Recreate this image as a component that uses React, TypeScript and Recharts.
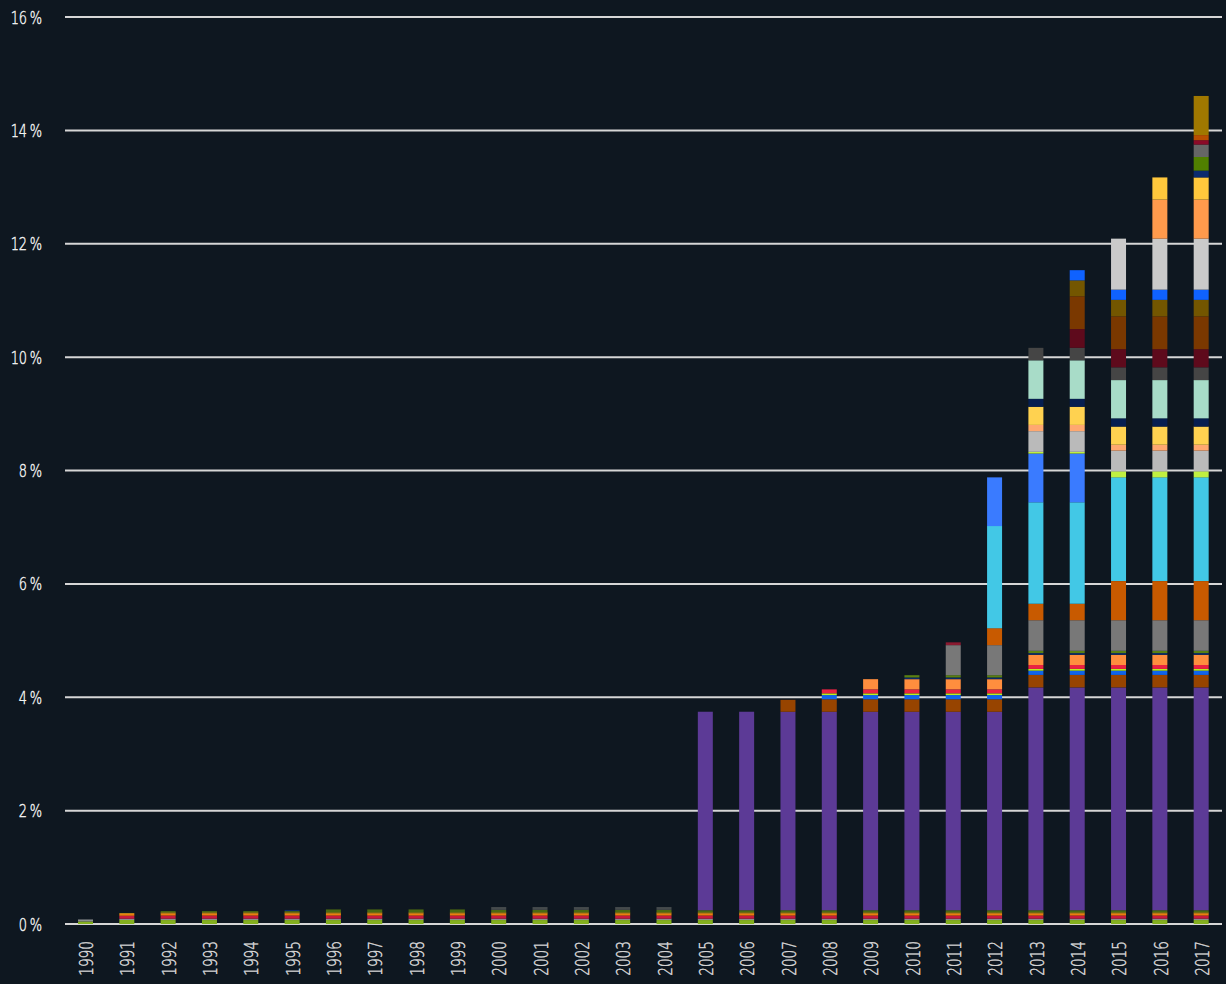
import { BarChart, Bar, XAxis, YAxis, CartesianGrid } from "recharts"

const years = [
  1990, 1991, 1992, 1993, 1994, 1995, 1996, 1997, 1998, 1999, 2000, 2001, 2002, 2003,
  2004, 2005, 2006, 2007, 2008, 2009, 2010, 2011, 2012, 2013, 2014, 2015, 2016, 2017,
]
const yTicks = [0, 2, 4, 6, 8, 10, 12, 14, 16]

// share values (%) per year, bottom of the stack first
const baseGreen = [0.045, 0.07, 0.07, 0.07, 0.07, 0.07, 0.07, 0.07, 0.07, 0.07, 0.07, 0.07, 0.07, 0.07, 0.07, 0.07, 0.07, 0.07, 0.07, 0.07, 0.07, 0.07, 0.07, 0.07, 0.07, 0.07, 0.07, 0.07]
const baseGray = [0.035, 0.024, 0.024, 0.024, 0.024, 0.024, 0.024, 0.024, 0.024, 0.024, 0.024, 0.024, 0.024, 0.024, 0.024, 0.024, 0.024, 0.024, 0.024, 0.024, 0.024, 0.024, 0.024, 0.024, 0.024, 0.024, 0.024, 0.024]
const baseRed = [0, 0.053, 0.055, 0.055, 0.055, 0.055, 0.055, 0.055, 0.055, 0.055, 0.055, 0.055, 0.055, 0.055, 0.055, 0.055, 0.055, 0.055, 0.055, 0.055, 0.055, 0.055, 0.055, 0.055, 0.055, 0.055, 0.055, 0.055]
const baseOrange = [0, 0.03, 0.035, 0.035, 0.035, 0.035, 0.035, 0.035, 0.035, 0.035, 0.035, 0.035, 0.035, 0.035, 0.035, 0.035, 0.035, 0.035, 0.035, 0.035, 0.035, 0.035, 0.035, 0.035, 0.035, 0.035, 0.035, 0.035]
const baseAmber = [0, 0.012, 0.02, 0.02, 0.02, 0.02, 0.02, 0.02, 0.02, 0.02, 0.02, 0.02, 0.02, 0.02, 0.02, 0.02, 0.02, 0.02, 0.02, 0.02, 0.02, 0.02, 0.02, 0.02, 0.02, 0.02, 0.02, 0.02]
const baseOlive = [0, 0, 0.024, 0.024, 0.024, 0.024, 0.053, 0.053, 0.053, 0.053, 0.045, 0.045, 0.045, 0.045, 0.045, 0.04, 0.04, 0.04, 0.04, 0.04, 0.04, 0.04, 0.04, 0.04, 0.04, 0.04, 0.04, 0.04]
const navyEarly = [0, 0, 0, 0, 0, 0.02, 0, 0, 0, 0, 0, 0, 0, 0, 0, 0, 0, 0, 0, 0, 0, 0, 0, 0, 0, 0, 0, 0]
const darkGrayEarly = [0, 0, 0, 0, 0, 0, 0, 0, 0, 0, 0.05, 0.05, 0.05, 0.05, 0.05, 0, 0, 0, 0, 0, 0, 0, 0, 0, 0, 0, 0, 0]
const purple = [0, 0, 0, 0, 0, 0, 0, 0, 0, 0, 0, 0, 0, 0, 0, 3.5, 3.5, 3.5, 3.5, 3.5, 3.5, 3.5, 3.5, 3.93, 3.93, 3.93, 3.93, 3.93]
const brown = [0, 0, 0, 0, 0, 0, 0, 0, 0, 0, 0, 0, 0, 0, 0, 0, 0, 0.21, 0.22, 0.22, 0.22, 0.22, 0.22, 0.22, 0.22, 0.22, 0.22, 0.22]
const blue = [0, 0, 0, 0, 0, 0, 0, 0, 0, 0, 0, 0, 0, 0, 0, 0, 0, 0, 0.075, 0.075, 0.075, 0.075, 0.075, 0.075, 0.075, 0.075, 0.075, 0.075]
const lime = [0, 0, 0, 0, 0, 0, 0, 0, 0, 0, 0, 0, 0, 0, 0, 0, 0, 0, 0.03, 0.03, 0.03, 0.03, 0.03, 0.03, 0.03, 0.03, 0.03, 0.03]
const red = [0, 0, 0, 0, 0, 0, 0, 0, 0, 0, 0, 0, 0, 0, 0, 0, 0, 0, 0.07, 0.07, 0.07, 0.07, 0.07, 0.07, 0.07, 0.07, 0.07, 0.07]
const orange = [0, 0, 0, 0, 0, 0, 0, 0, 0, 0, 0, 0, 0, 0, 0, 0, 0, 0, 0, 0.18, 0.18, 0.18, 0.18, 0.18, 0.18, 0.18, 0.18, 0.18]
const navy = [0, 0, 0, 0, 0, 0, 0, 0, 0, 0, 0, 0, 0, 0, 0, 0, 0, 0, 0, 0, 0.03, 0.03, 0.03, 0.03, 0.03, 0.03, 0.03, 0.03]
const olive = [0, 0, 0, 0, 0, 0, 0, 0, 0, 0, 0, 0, 0, 0, 0, 0, 0, 0, 0, 0, 0.04, 0.04, 0.04, 0.04, 0.04, 0.04, 0.04, 0.04]
const gray = [0, 0, 0, 0, 0, 0, 0, 0, 0, 0, 0, 0, 0, 0, 0, 0, 0, 0, 0, 0, 0, 0.53, 0.53, 0.54, 0.54, 0.54, 0.54, 0.54]
const darkRed = [0, 0, 0, 0, 0, 0, 0, 0, 0, 0, 0, 0, 0, 0, 0, 0, 0, 0, 0, 0, 0, 0.05, 0, 0, 0, 0, 0, 0]
const rust = [0, 0, 0, 0, 0, 0, 0, 0, 0, 0, 0, 0, 0, 0, 0, 0, 0, 0, 0, 0, 0, 0, 0.3, 0.29, 0.29, 0.69, 0.69, 0.69]
const cyan = [0, 0, 0, 0, 0, 0, 0, 0, 0, 0, 0, 0, 0, 0, 0, 0, 0, 0, 0, 0, 0, 0, 1.8, 1.79, 1.79, 1.83, 1.83, 1.83]
const skyBlue = [0, 0, 0, 0, 0, 0, 0, 0, 0, 0, 0, 0, 0, 0, 0, 0, 0, 0, 0, 0, 0, 0, 0.86, 0.86, 0.86, 0, 0, 0]
const lime2 = [0, 0, 0, 0, 0, 0, 0, 0, 0, 0, 0, 0, 0, 0, 0, 0, 0, 0, 0, 0, 0, 0, 0, 0.03, 0.03, 0.106, 0.106, 0.106]
const silver = [0, 0, 0, 0, 0, 0, 0, 0, 0, 0, 0, 0, 0, 0, 0, 0, 0, 0, 0, 0, 0, 0, 0, 0.365, 0.365, 0.365, 0.365, 0.365]
const salmon = [0, 0, 0, 0, 0, 0, 0, 0, 0, 0, 0, 0, 0, 0, 0, 0, 0, 0, 0, 0, 0, 0, 0, 0.11, 0.11, 0.105, 0.105, 0.105]
const yellow = [0, 0, 0, 0, 0, 0, 0, 0, 0, 0, 0, 0, 0, 0, 0, 0, 0, 0, 0, 0, 0, 0, 0, 0.32, 0.32, 0.32, 0.32, 0.32]
const midnight = [0, 0, 0, 0, 0, 0, 0, 0, 0, 0, 0, 0, 0, 0, 0, 0, 0, 0, 0, 0, 0, 0, 0, 0.14, 0.14, 0.145, 0.145, 0.145]
const mint = [0, 0, 0, 0, 0, 0, 0, 0, 0, 0, 0, 0, 0, 0, 0, 0, 0, 0, 0, 0, 0, 0, 0, 0.68, 0.68, 0.675, 0.675, 0.675]
const charcoal = [0, 0, 0, 0, 0, 0, 0, 0, 0, 0, 0, 0, 0, 0, 0, 0, 0, 0, 0, 0, 0, 0, 0, 0.22, 0.22, 0.225, 0.225, 0.225]
const maroon = [0, 0, 0, 0, 0, 0, 0, 0, 0, 0, 0, 0, 0, 0, 0, 0, 0, 0, 0, 0, 0, 0, 0, 0, 0.33, 0.32, 0.32, 0.32]
const chestnut = [0, 0, 0, 0, 0, 0, 0, 0, 0, 0, 0, 0, 0, 0, 0, 0, 0, 0, 0, 0, 0, 0, 0, 0, 0.58, 0.58, 0.58, 0.58]
const bronze = [0, 0, 0, 0, 0, 0, 0, 0, 0, 0, 0, 0, 0, 0, 0, 0, 0, 0, 0, 0, 0, 0, 0, 0, 0.28, 0.29, 0.29, 0.29]
const royal = [0, 0, 0, 0, 0, 0, 0, 0, 0, 0, 0, 0, 0, 0, 0, 0, 0, 0, 0, 0, 0, 0, 0, 0, 0.18, 0.18, 0.18, 0.18]
const pale = [0, 0, 0, 0, 0, 0, 0, 0, 0, 0, 0, 0, 0, 0, 0, 0, 0, 0, 0, 0, 0, 0, 0, 0, 0, 0.9, 0.9, 0.9]
const apricot = [0, 0, 0, 0, 0, 0, 0, 0, 0, 0, 0, 0, 0, 0, 0, 0, 0, 0, 0, 0, 0, 0, 0, 0, 0, 0, 0.69, 0.69]
const gold = [0, 0, 0, 0, 0, 0, 0, 0, 0, 0, 0, 0, 0, 0, 0, 0, 0, 0, 0, 0, 0, 0, 0, 0, 0, 0, 0.39, 0.39]
const navyLate = [0, 0, 0, 0, 0, 0, 0, 0, 0, 0, 0, 0, 0, 0, 0, 0, 0, 0, 0, 0, 0, 0, 0, 0, 0, 0, 0, 0.12]
const leaf = [0, 0, 0, 0, 0, 0, 0, 0, 0, 0, 0, 0, 0, 0, 0, 0, 0, 0, 0, 0, 0, 0, 0, 0, 0, 0, 0, 0.24]
const slate = [0, 0, 0, 0, 0, 0, 0, 0, 0, 0, 0, 0, 0, 0, 0, 0, 0, 0, 0, 0, 0, 0, 0, 0, 0, 0, 0, 0.22]
const wine = [0, 0, 0, 0, 0, 0, 0, 0, 0, 0, 0, 0, 0, 0, 0, 0, 0, 0, 0, 0, 0, 0, 0, 0, 0, 0, 0, 0.077]
const copper = [0, 0, 0, 0, 0, 0, 0, 0, 0, 0, 0, 0, 0, 0, 0, 0, 0, 0, 0, 0, 0, 0, 0, 0, 0, 0, 0, 0.09]
const mustard = [0, 0, 0, 0, 0, 0, 0, 0, 0, 0, 0, 0, 0, 0, 0, 0, 0, 0, 0, 0, 0, 0, 0, 0, 0, 0, 0, 0.69]

const series: [string, number[]][] = [
  ["baseGreen", baseGreen], ["baseGray", baseGray], ["baseRed", baseRed], ["baseOrange", baseOrange],
  ["baseAmber", baseAmber], ["baseOlive", baseOlive], ["navyEarly", navyEarly], ["darkGrayEarly", darkGrayEarly],
  ["purple", purple], ["brown", brown], ["blue", blue], ["lime", lime], ["red", red], ["orange", orange],
  ["navy", navy], ["olive", olive], ["gray", gray], ["darkRed", darkRed], ["rust", rust], ["cyan", cyan],
  ["skyBlue", skyBlue], ["lime2", lime2], ["silver", silver], ["salmon", salmon], ["yellow", yellow],
  ["midnight", midnight], ["mint", mint], ["charcoal", charcoal], ["maroon", maroon], ["chestnut", chestnut],
  ["bronze", bronze], ["royal", royal], ["pale", pale], ["apricot", apricot], ["gold", gold],
  ["navyLate", navyLate], ["leaf", leaf], ["slate", slate], ["wine", wine], ["copper", copper], ["mustard", mustard],
]

const colors: Record<string, string> = {
  baseGreen: "#84b01e", baseGray: "#8a8e8e", baseRed: "#c8183c", baseOrange: "#f07a10",
  baseAmber: "#f0a810", baseOlive: "#4a6a12", navyEarly: "#0c2a6a", darkGrayEarly: "#454a4c",
  purple: "#5c3a96", brown: "#974400", blue: "#1064ea", lime: "#b8f020", red: "#ea2242",
  orange: "#ff8e3e", navy: "#0a2a6a", olive: "#5a8012", gray: "#787878", darkRed: "#8a1a30",
  rust: "#c85a00", cyan: "#42c8e6", skyBlue: "#3a7bff", lime2: "#c0f040", silver: "#bababa",
  salmon: "#ffa870", yellow: "#ffd250", midnight: "#061e50", mint: "#a8dcc8", charcoal: "#454545",
  maroon: "#5e0a1c", chestnut: "#7a3800", bronze: "#735600", royal: "#0f62ff", pale: "#cacaca",
  apricot: "#ff9a4c", gold: "#ffc83c", navyLate: "#0a2a6e", leaf: "#508000", slate: "#666666",
  wine: "#8a0a28", copper: "#b84e00", mustard: "#a07800",
}

const data = years.map((year, i) => {
  const row: Record<string, number> = { year }
  series.forEach(([key, values]) => {
    row[key] = values[i]
  })
  return row
})

const font = "'DejaVu Sans', sans-serif"

function YTick({ y, payload }: any) {
  return (
    <text
      transform={`translate(42,${y + 6.5}) scale(0.72,1)`}
      textAnchor="end"
      fill="#f4f4f4"
      stroke="#f4f4f4"
      strokeWidth={0.45}
      fontSize={18}
      fontWeight={200}
      fontFamily={font}
    >
      {`${payload.value}\u2009%`}
    </text>
  )
}

function XTick({ x, payload }: any) {
  return (
    <text
      transform={`translate(${x + 7.5},941) rotate(-90) scale(0.72,1)`}
      textAnchor="end"
      fill="#d9d9d9"
      stroke="#d9d9d9"
      strokeWidth={0.45}
      fontSize={19}
      fontWeight={200}
      fontFamily={font}
    >
      {payload.value}
    </text>
  )
}

export default function App() {
  return (
    <div style={{ position: "absolute", left: 0, top: 0, width: 1226, height: 984, background: "#0e1720" }}>
      <BarChart width={1226} height={984} data={data} margin={{ top: 17, right: 4, bottom: 0, left: 0 }}>
        <CartesianGrid horizontal vertical={false} stroke="#d6d6d6" strokeWidth={2} />
        <XAxis dataKey="year" interval={0} height={60} axisLine={false} tickLine={false} tick={<XTick />} />
        <YAxis
          domain={[0, 16]}
          ticks={yTicks}
          width={65}
          axisLine={false}
          tickLine={false}
          tick={<YTick />}
        />
        {series.map(([key]) => (
          <Bar key={key} dataKey={key} stackId="a" fill={colors[key]} barSize={15} isAnimationActive={false} />
        ))}
      </BarChart>
    </div>
  )
}
